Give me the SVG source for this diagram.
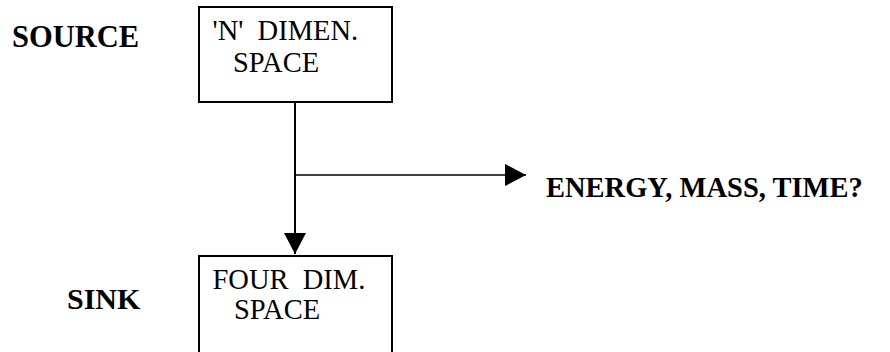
<svg xmlns="http://www.w3.org/2000/svg" width="890" height="352" viewBox="0 0 890 352">
<style>
  .box { fill: #fff; stroke: #000; stroke-width: 2; }
  .t { font-family: "Liberation Serif", "Times New Roman", serif; font-size: 28.5px; fill: #000; white-space: pre; }
  .lbl { font-family: "Liberation Serif", "Times New Roman", serif; font-size: 30px; font-weight: bold; fill: #000; white-space: pre; }
  .ln { stroke: #000; fill: none; }
</style>
<defs>
  <marker id="ah" markerUnits="userSpaceOnUse" markerWidth="22" markerHeight="22" viewBox="0 0 22 22" refX="21" refY="11" orient="auto">
    <path d="M0,0 L21,11 L0,22 Z" fill="#000"/>
  </marker>
</defs>
<rect width="890" height="352" fill="#fff"/>
<g id="source-label"><text class="lbl" x="12" y="46.5" style="font-size:30.5px">SOURCE</text></g>
<g id="sink-label"><text class="lbl" x="67" y="308.5">SINK</text></g>
<g id="n-dim-space">
  <rect class="box" x="199" y="7" width="193" height="95"/>
  <text class="t" x="212.5" y="39.5">'N'  DIMEN.</text>
  <text class="t" x="233" y="72">SPACE</text>
</g>
<g id="four-dim-space">
  <rect class="box" x="199" y="256" width="193" height="110"/>
  <text class="t" x="212.5" y="289">FOUR  DIM.</text>
  <text class="t" x="234" y="319">SPACE</text>
</g>
<g id="energy-label"><text class="lbl" x="546" y="196.5" style="font-size:28.5px">ENERGY, MASS, TIME?</text></g>
<g id="connectors">
  <line class="ln" x1="295" y1="102" x2="295" y2="254" stroke-width="2" marker-end="url(#ah)"/>
  <line class="ln" x1="295" y1="175" x2="526" y2="175" stroke-width="1.5" marker-end="url(#ah)"/>
</g>
</svg>
